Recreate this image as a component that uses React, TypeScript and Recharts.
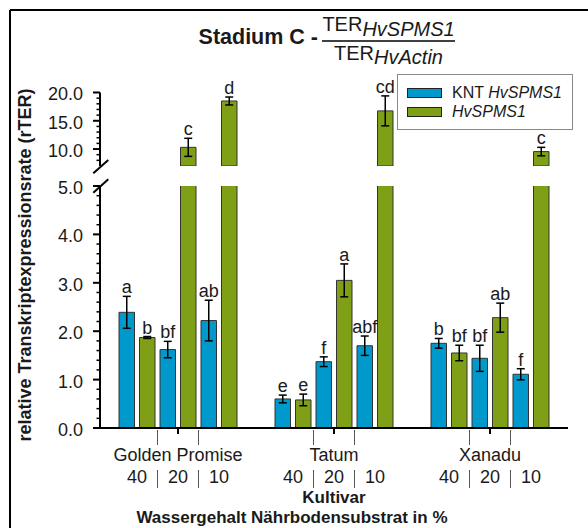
import React from "react";
import { BarChart, Bar, XAxis, YAxis, ErrorBar, LabelList, Legend } from "recharts";

// ---------------------------------------------------------------------------
// Data (rTER means per cultivar: Golden Promise, Tatum, Xanadu)
// ---------------------------------------------------------------------------

const CULTIVARS = ["Golden Promise", "Tatum", "Xanadu"];
const WATER_LEVELS = ["40", "20", "10"];

const KNT_40 = [2.39, 0.6, 1.75];
const SPMS_40 = [1.87, 0.58, 1.55];
const KNT_20 = [1.62, 1.37, 1.44];
const SPMS_20 = [10.3, 3.05, 2.28];
const KNT_10 = [2.22, 1.7, 1.11];
const SPMS_10 = [18.5, 16.75, 9.55];

// error bar half-lengths
const KNT_40_ERR = [0.33, 0.08, 0.1];
const SPMS_40_ERR = [0.02, 0.12, 0.16];
const KNT_20_ERR = [0.17, 0.1, 0.27];
const SPMS_20_ERR = [1.6, 0.34, 0.3];
const KNT_10_ERR = [0.42, 0.2, 0.115];
const SPMS_10_ERR = [0.7, 2.65, 0.75];

// significance letters
const KNT_40_SIG = ["a", "e", "b"];
const SPMS_40_SIG = ["b", "e", "bf"];
const KNT_20_SIG = ["bf", "f", "bf"];
const SPMS_20_SIG = ["c", "a", "ab"];
const KNT_10_SIG = ["ab", "abf", "f"];
const SPMS_10_SIG = ["d", "cd", "c"];

// broken value axis: upper and lower segment
const UPPER_DOMAIN: [number, number] = [7, 20];
const LOWER_DOMAIN: [number, number] = [0, 5];
const UPPER_TICKS = [8, 9, 10, 11, 12, 13, 14, 15, 16, 17, 18, 19, 20];
const UPPER_MAJOR = [10, 15, 20];
const LOWER_TICKS = Array.from({ length: 26 }, (_, i) => Math.round(i * 2) / 10);

// ---------------------------------------------------------------------------
// Styling
// ---------------------------------------------------------------------------

const FONT = "'Liberation Sans', Arial, Helvetica, sans-serif";
const BLUE = "#0099cc";
const GREEN = "#7f9f17";
const BAR_EDGE = "#333333";
const TEXT = "#1a1a1a";

const WIDTH = 588;
const HEIGHT = 528;
const BAR_SIZE = 15.5;
const BAR_GAP = 5;
const X_TICK_SIZE = 6;

const SERIES = [
  { key: "knt40", mean: KNT_40, err: KNT_40_ERR, sig: KNT_40_SIG, fill: BLUE },
  { key: "spms40", mean: SPMS_40, err: SPMS_40_ERR, sig: SPMS_40_SIG, fill: GREEN },
  { key: "knt20", mean: KNT_20, err: KNT_20_ERR, sig: KNT_20_SIG, fill: BLUE },
  { key: "spms20", mean: SPMS_20, err: SPMS_20_ERR, sig: SPMS_20_SIG, fill: GREEN },
  { key: "knt10", mean: KNT_10, err: KNT_10_ERR, sig: KNT_10_SIG, fill: BLUE },
  { key: "spms10", mean: SPMS_10, err: SPMS_10_ERR, sig: SPMS_10_SIG, fill: GREEN },
];

const LEGEND_ITEMS = [
  { prefix: "KNT ", gene: "HvSPMS1", fill: BLUE },
  { prefix: "", gene: "HvSPMS1", fill: GREEN },
];

type Row = Record<string, string | number | null>;

// Rows for one segment of the broken axis. Upper segment only keeps bars that
// reach past its floor; lower segment keeps every bar (tall ones get clipped)
// but drops error bars and letters whose bar top is out of range.
function buildRows(part: "upper" | "lower"): Row[] {
  return CULTIVARS.map((cultivar, i) => {
    const row: Row = { cultivar };
    for (const s of SERIES) {
      const v = s.mean[i];
      const topVisible = part === "upper" ? v > UPPER_DOMAIN[0] : v <= LOWER_DOMAIN[1];
      row[s.key] = part === "upper" && !topVisible ? null : v;
      row[`${s.key}Err`] = topVisible ? s.err[i] : null;
      row[`${s.key}Sig`] = topVisible ? s.sig[i] : null;
    }
    return row;
  });
}

const upperRows = buildRows("upper");
const lowerRows = buildRows("lower");

// ---------------------------------------------------------------------------
// Axis ticks and labels
// ---------------------------------------------------------------------------

function ValueTick(props: any) {
  const { x, y, payload, isMajor } = props;
  const v = payload.value as number;
  const major = isMajor(v);
  return (
    <g>
      <line
        x1={x - (major ? 7 : 3.5)}
        x2={x}
        y1={y}
        y2={y}
        stroke="#000"
        strokeWidth={major ? 2 : 1.5}
      />
      {major && (
        <text
          x={x - 17}
          y={y + 1.5}
          dy="0.36em"
          textAnchor="end"
          fontSize={18}
          fontFamily={FONT}
          fill={TEXT}
        >
          {v.toFixed(1)}
        </text>
      )}
    </g>
  );
}

function CultivarTick(props: any) {
  const { x, y, payload } = props;
  const axisY = y - X_TICK_SIZE;
  const pitch = BAR_SIZE + BAR_GAP;
  const seps = [-pitch, pitch];
  return (
    <g fontFamily={FONT} fill={TEXT}>
      {seps.map((dx) => (
        <g key={dx} stroke="#555" strokeWidth={1}>
          <line x1={x + dx} x2={x + dx} y1={axisY + 2} y2={axisY + 17} />
          <line x1={x + dx} x2={x + dx} y1={axisY + 42} y2={axisY + 60} />
        </g>
      ))}
      <text x={x} y={axisY + 33} textAnchor="middle" fontSize={18}>
        {payload.value}
      </text>
      {WATER_LEVELS.map((w, i) => (
        <text
          key={w}
          x={x + (i - 1) * 2 * pitch}
          y={axisY + 55}
          textAnchor="middle"
          fontSize={18}
        >
          {w}
        </text>
      ))}
    </g>
  );
}

// Letter above each error bar; value carries mean, error and letter.
const sigAccessor = (key: string) => (row: Row) =>
  row[`${key}Sig`] == null
    ? null
    : { sig: row[`${key}Sig`], mean: row[key], err: row[`${key}Err`] };

const renderSig = (base: number) => (props: any) => {
  const v = props.value;
  if (!v || typeof v !== "object") return null;
  const box = props.viewBox && props.viewBox.width != null ? props.viewBox : props;
  const { x, y, width, height } = box;
  const perUnit = height / (v.mean - base);
  const top = y - (v.err ?? 0) * perUnit;
  return (
    <text
      x={x + width / 2}
      y={top - 3}
      textAnchor="middle"
      fontSize={18}
      fontFamily={FONT}
      fill={TEXT}
    >
      {v.sig}
    </text>
  );
};

function LegendBox() {
  return (
    <div
      style={{
        position: "relative",
        width: 176,
        height: 56,
        boxSizing: "border-box",
        border: "1px solid #8a8a8a",
        background: "#fff",
        fontFamily: FONT,
        fontSize: 16,
        color: TEXT,
      }}
    >
      {LEGEND_ITEMS.map((item, i) => (
        <div
          key={i}
          style={{
            position: "absolute",
            left: 9,
            top: 8.5 + i * 19.5,
            height: 18,
            display: "flex",
            alignItems: "center",
            whiteSpace: "nowrap",
          }}
        >
          <span
            style={{
              display: "inline-block",
              width: 35,
              height: 10,
              background: item.fill,
              border: "1px solid #222",
              boxSizing: "border-box",
              marginRight: 10,
            }}
          />
          <span>
            {item.prefix}
            <i>{item.gene}</i>
          </span>
        </div>
      ))}
    </div>
  );
}

function renderBars(base: number) {
  return SERIES.map((s) => (
    <Bar
      key={s.key}
      dataKey={s.key}
      fill={s.fill}
      stroke={BAR_EDGE}
      strokeWidth={1}
      isAnimationActive={false}
    >
      <ErrorBar
        dataKey={`${s.key}Err`}
        width={4}
        stroke="#000"
        strokeWidth={1.5}
        isAnimationActive={false}
      />
      <LabelList dataKey={sigAccessor(s.key) as any} content={renderSig(base)} />
    </Bar>
  ));
}

// ---------------------------------------------------------------------------
// Component
// ---------------------------------------------------------------------------

export default function App() {
  return (
    <div
      style={{
        position: "absolute",
        left: 0,
        top: 0,
        width: WIDTH,
        height: HEIGHT,
        background: "#fff",
        overflow: "hidden",
        fontFamily: FONT,
      }}
    >
      {/* upper segment of the broken axis: 7 – 20 */}
      <div style={{ position: "absolute", left: 0, top: 60 }}>
        <BarChart
          width={WIDTH}
          height={110}
          data={upperRows}
          margin={{ top: 32.5, right: 20, bottom: 4, left: 0 }}
          barSize={BAR_SIZE}
          barGap={BAR_GAP}
        >
          <XAxis dataKey="cultivar" hide />
          <YAxis
            domain={UPPER_DOMAIN}
            allowDataOverflow
            ticks={UPPER_TICKS}
            interval={0}
            width={100}
            tickSize={0}
            tickMargin={0}
            tickLine={false}
            axisLine={{ stroke: "#000", strokeWidth: 2 }}
            tick={(p: any) => (
              <ValueTick {...p} isMajor={(v: number) => UPPER_MAJOR.includes(v)} />
            )}
          />
          <Legend
            layout="horizontal"
            verticalAlign="middle"
            align="center"
            wrapperStyle={{ left: 397, top: 14, width: "auto" }}
            content={() => <LegendBox />}
          />
          {renderBars(UPPER_DOMAIN[0])}
        </BarChart>
      </div>

      {/* lower segment of the broken axis: 0 – 5 */}
      <div style={{ position: "absolute", left: 0, top: 170 }}>
        <BarChart
          width={WIDTH}
          height={358}
          data={lowerRows}
          margin={{ top: 16, right: 20, bottom: 0, left: 0 }}
          barSize={BAR_SIZE}
          barGap={BAR_GAP}
        >
          <XAxis
            dataKey="cultivar"
            height={100}
            interval={0}
            tickSize={X_TICK_SIZE}
            tickMargin={0}
            axisLine={{ stroke: "#000", strokeWidth: 2 }}
            tickLine={{ stroke: "#000", strokeWidth: 2 }}
            tick={(p: any) => <CultivarTick {...p} />}
          />
          <YAxis
            domain={LOWER_DOMAIN}
            allowDataOverflow
            ticks={LOWER_TICKS}
            interval={0}
            width={100}
            tickSize={0}
            tickMargin={0}
            tickLine={false}
            axisLine={{ stroke: "#000", strokeWidth: 2 }}
            tick={(p: any) => (
              <ValueTick {...p} isMajor={(v: number) => Number.isInteger(v)} />
            )}
          />
          {renderBars(LOWER_DOMAIN[0])}
        </BarChart>
      </div>

      {/* titles, axis break marks and frame */}
      <svg
        width={WIDTH}
        height={HEIGHT}
        style={{ position: "absolute", left: 0, top: 0, pointerEvents: "none" }}
        fontFamily={FONT}
      >
        <line x1={10} x2={WIDTH} y1={10} y2={10} stroke="#000" strokeWidth={2} />
        <line x1={10} x2={10} y1={10} y2={HEIGHT} stroke="#000" strokeWidth={2} />

        <text x={318} y={44} textAnchor="end" fontSize={21.5} fontWeight="bold" fill={TEXT}>
          Stadium C -
        </text>
        <text x={388.5} y={31} textAnchor="middle" fontSize={20} fill={TEXT}>
          TER
          <tspan fontStyle="italic" dy={5}>
            HvSPMS1
          </tspan>
        </text>
        <line x1={322} x2={455} y1={41} y2={41} stroke="#000" strokeWidth={1.5} />
        <text x={388.5} y={60} textAnchor="middle" fontSize={20} fill={TEXT}>
          TER
          <tspan fontStyle="italic" dy={4}>
            HvActin
          </tspan>
        </text>

        <text
          transform="translate(30.5,265) rotate(-90)"
          textAnchor="middle"
          fontSize={18}
          fontWeight="bold"
          fill={TEXT}
        >
          relative Transkriptexpressionsrate (rTER)
        </text>

        <line x1={93.3} y1={173.3} x2={108.3} y2={160} stroke="#000" strokeWidth={2} />
        <line x1={93.3} y1={192.7} x2={108.3} y2={179.3} stroke="#000" strokeWidth={2} />

        <text x={334} y={503} textAnchor="middle" fontSize={17} fontWeight="bold" fill={TEXT}>
          Kultivar
        </text>
        <text x={292} y={523} textAnchor="middle" fontSize={17} fontWeight="bold" fill={TEXT}>
          Wassergehalt Nährbodensubstrat in %
        </text>
      </svg>
    </div>
  );
}
